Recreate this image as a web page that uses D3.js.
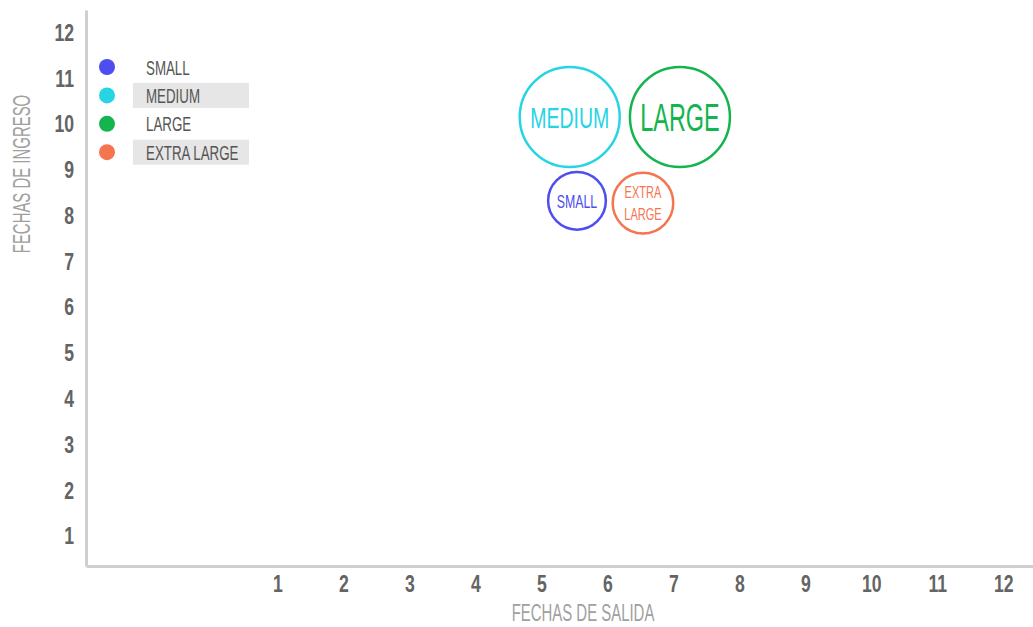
<!DOCTYPE html>
<html>
<head>
<meta charset="utf-8">
<script src="https://cdn.jsdelivr.net/npm/d3@7"></script>
<style>
  body { margin: 0; background: #fff; }
  text { font-family: "Liberation Sans", Arial, sans-serif; }
</style>
</head>
<body>
<div id="chart"></div>
<script>
// tallas (categories)
const sizes = ['SMALL', 'MEDIUM', 'LARGE', 'EXTRA LARGE'];
const bubbleLabels = [['SMALL'], ['MEDIUM'], ['LARGE'], ['EXTRA', 'LARGE']];
const colors = ['#4d4df0', '#27d4e4', '#14b44e', '#f47550'];
// values
const salida = [5.54, 5.43, 7.1, 6.54];   // fechas de salida (x)
const ingreso = [8.33, 10.16, 10.16, 8.28]; // fechas de ingreso (y)
const amount = [1, 3, 3, 1.1];              // bubble size
const xTicks = [1, 2, 3, 4, 5, 6, 7, 8, 9, 10, 11, 12];
const yTicks = [1, 2, 3, 4, 5, 6, 7, 8, 9, 10, 11, 12];

const width = 1033, height = 627;
const condense = 0.65;     // no condensed font here, so squeeze Liberation Sans
const condenseBold = 0.75; // tick numbers

const svg = d3.select('#chart')
  .append('svg')
  .attr('width', width)
  .attr('height', height);

const xScale = d3.scaleLinear().domain([-1.9, 12.45]).range([86, 1033]);
const yScale = d3.scaleLinear().domain([0.35, 12.5]).range([566, 10]);
const rScale = d3.scaleSqrt().domain([0, 3]).range([0, 50]);

// axes
const xAxis = svg.append('g')
  .attr('transform', 'translate(0,566)')
  .call(d3.axisBottom(xScale).tickValues(xTicks).tickSize(0).tickPadding(9));
const yAxis = svg.append('g')
  .attr('transform', 'translate(86,0)')
  .call(d3.axisLeft(yScale).tickValues(yTicks).tickSize(0).tickPadding(12 / condenseBold));

[xAxis, yAxis].forEach(ax => {
  ax.select('.domain').attr('stroke', '#cfcfcf').attr('stroke-width', 3);
  ax.selectAll('text')
    .attr('fill', '#646464')
    .attr('transform', `scale(${condenseBold},1)`)
    .style('font-size', '23.5px')
    .style('font-weight', 'bold')
    .style('font-family', '"Liberation Sans", Arial, sans-serif');
});

// axis titles
svg.append('text')
  .attr('transform', `translate(583,621) scale(${condense},1)`)
  .attr('text-anchor', 'middle')
  .attr('fill', '#a0a0a0')
  .style('font-size', '23px')
  .text('FECHAS DE SALIDA');

svg.append('text')
  .attr('transform', `translate(30,174) rotate(-90) scale(${condense},1)`)
  .attr('text-anchor', 'middle')
  .attr('fill', '#a0a0a0')
  .style('font-size', '23px')
  .text('FECHAS DE INGRESO');

// legend
const legend = svg.selectAll('.legend')
  .data(sizes)
  .enter()
  .append('g')
  .attr('class', 'legend')
  .attr('transform', (d, i) => `translate(107, ${67 + i * 28.4})`);

legend.filter((d, i) => i % 2 === 1)
  .append('rect')
  .attr('x', 26)
  .attr('y', -12.5)
  .attr('width', 116)
  .attr('height', 25)
  .attr('fill', '#e6e6e6');

legend.append('circle')
  .attr('r', 8)
  .attr('fill', (d, i) => colors[i]);

legend.append('text')
  .attr('transform', `translate(39,7.5) scale(${condense},1)`)
  .attr('fill', '#555')
  .style('font-size', '20.5px')
  .text(d => d);

// bubbles
const bubbles = svg.selectAll('.bubble')
  .data(sizes)
  .enter()
  .append('g')
  .attr('class', 'bubble')
  .attr('transform', (d, i) => `translate(${xScale(salida[i])}, ${yScale(ingreso[i])})`);

bubbles.append('circle')
  .attr('r', (d, i) => rScale(amount[i]))
  .attr('fill', 'none')
  .attr('stroke', (d, i) => colors[i])
  .attr('stroke-width', 2.5);

const fontSizes = [19, 30, 39, 17];
bubbles.each(function (d, i) {
  const lines = bubbleLabels[i];
  const fs = fontSizes[i];
  const lh = fs * 1.3;
  d3.select(this).selectAll('text')
    .data(lines)
    .enter()
    .append('text')
    .attr('transform', (t, j) => {
      const y = (j - (lines.length - 1) / 2) * lh + fs * 0.36;
      return `translate(0,${y}) scale(${i === 2 ? 0.6 : condense},1)`;
    })
    .attr('text-anchor', 'middle')
    .attr('fill', colors[i])
    .style('font-size', fs + 'px')
    .text(t => t);
});
</script>
</body>
</html>
